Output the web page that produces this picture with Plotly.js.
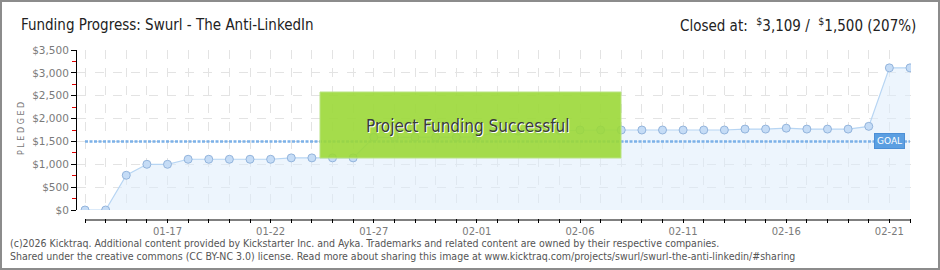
<!DOCTYPE html>
<html>
<head>
<meta charset="utf-8">
<script src="https://cdn.plot.ly/plotly-3.0.1.min.js"></script>
<style>
  html, body { margin: 0; padding: 0; background: #fff; }
  #wrap { position: relative; width: 940px; height: 270px; }
  #chart { width: 940px; height: 270px; }
  #frame { position: absolute; left: 0; top: 0; width: 940px; height: 270px; box-sizing: border-box;
           border: 2px solid #8c8c8c; pointer-events: none; }
</style>
</head>
<body>
<div id="wrap"><div id="chart"></div><div id="frame"></div></div>
<script>
const dates = ['2026-01-13','2026-01-14','2026-01-15','2026-01-16','2026-01-17','2026-01-18','2026-01-19',
  '2026-01-20','2026-01-21','2026-01-22','2026-01-23','2026-01-24','2026-01-25','2026-01-26','2026-01-27',
  '2026-01-28','2026-01-29','2026-01-30','2026-01-31','2026-02-01','2026-02-02','2026-02-03','2026-02-04',
  '2026-02-05','2026-02-06','2026-02-07','2026-02-08','2026-02-09','2026-02-10','2026-02-11','2026-02-12',
  '2026-02-13','2026-02-14','2026-02-15','2026-02-16','2026-02-17','2026-02-18','2026-02-19','2026-02-20',
  '2026-02-21','2026-02-22'];
const pledged = [0,0,760,1000,1000,1110,1110,1110,1110,1110,1140,1140,1140,1140,1590,1590,1590,1590,1590,
  1600,1715,1725,1730,1740,1750,1750,1750,1750,1750,1750,1750,1750,1770,1770,1790,1770,1770,1770,1830,3109,3109];
const goal = 1500;
const titleText = 'Funding Progress: Swurl - The Anti-LinkedIn';
const closedText = 'Closed at:  <sup>$</sup>3,109 /  <sup>$</sup>1,500 (207%)';
const stampText = 'Project Funding Successful';
const footer1 = '(c)2026 Kicktraq. Additional content provided by Kickstarter Inc. and Ayka. Trademarks and related content are owned by their respective companies.';
const footer2 = 'Shared under the creative commons (CC BY-NC 3.0) license. Read more about sharing this image at www.kicktraq.com/projects/swurl/swurl-the-anti-linkedin/#sharing';

const L = 77, R = 911, T = 50, B = 220;
const W = R - L, H = B - T;
const px = v => (v - L) / W;
const py = v => (B - v) / H;

const traces = [
  {
    x: dates, y: pledged, type: 'scatter', mode: 'lines+markers',
    line: { color: '#b7d5f3', width: 1.2 },
    fill: 'tozeroy', fillcolor: 'rgba(222,236,252,0.55)',
    marker: { size: 8, color: '#c5dcf6', line: { color: '#93b4dc', width: 1 } },
    hoverinfo: 'skip'
  },
  {
    x: [dates[0], dates[dates.length - 1]], y: [goal, goal], type: 'scatter', mode: 'lines',
    line: { color: '#7cb1e8', width: 2.5, dash: '3px,1.5px' }, hoverinfo: 'skip'
  }
];

const tickFont = { family: 'DejaVu Sans, sans-serif', size: 10.5, color: '#7a7a7a' };
const condensed = 'DejaVu Sans Condensed, sans-serif';

const layout = {
  width: 940, height: 270,
  margin: { l: L, r: 940 - R, t: T, b: 270 - B },
  paper_bgcolor: '#ffffff', plot_bgcolor: '#ffffff',
  showlegend: false,
  xaxis: {
    type: 'date',
    range: ['2026-01-12 14:41', '2026-02-22 01:10'],
    anchor: 'free', position: 2 / H,
    tick0: '2026-01-17', dtick: 5 * 86400000, tickformat: '%m-%d',
    ticks: 'outside', ticklen: 4, tickcolor: '#000', tickwidth: 1,
    tickfont: { family: 'DejaVu Sans, sans-serif', size: 10, color: '#7a7a7a' },
    showgrid: true, gridcolor: '#e3e3e3', griddash: 'dash', gridwidth: 1,
    minor: { tick0: '2026-01-13', dtick: 86400000, ticks: 'outside', ticklen: 4, tickcolor: '#000',
             showgrid: true, gridcolor: '#e3e3e3', griddash: 'dash' },
    showline: false, zeroline: false
  },
  yaxis: {
    domain: [10 / H, 1],
    range: [0, 3500], dtick: 500,
    tickprefix: '$', tickformat: ',d', separatethousands: true,
    ticks: 'outside', ticklen: 5, tickcolor: '#000',
    tickfont: tickFont,
    showline: true, linecolor: '#000', linewidth: 1,
    showgrid: true, gridcolor: '#e3e3e3', griddash: 'dash',
    minor: { dtick: 250, ticks: 'outside', ticklen: 4, tickcolor: '#e00000', showgrid: false },
    zeroline: false
  },
  shapes: [
    { type: 'line', xref: 'x', yref: 'paper', x0: dates[0], x1: dates[dates.length - 1], y0: 0, y1: 0,
      line: { color: '#000', width: 1 } },
    { type: 'rect', xref: 'paper', yref: 'paper', x0: px(320), x1: px(621), y0: py(158), y1: py(92),
      fillcolor: 'rgba(155,216,55,0.9)', line: { color: '#b9e383', width: 1 }, layer: 'above' }
  ],
  annotations: [
    { xref: 'paper', yref: 'paper', x: px(19), y: py(25), xanchor: 'left', yanchor: 'middle',
      text: titleText, showarrow: false,
      font: { family: condensed, size: 15, color: '#222' } },
    { xref: 'paper', yref: 'paper', x: px(918), y: py(25), xanchor: 'right', yanchor: 'middle',
      text: closedText, showarrow: false,
      font: { family: condensed, size: 15, color: '#222' } },
    { xref: 'paper', yref: 'paper', x: px(21), y: py(129), xanchor: 'center', yanchor: 'middle',
      text: 'P L E D G E D', textangle: -90, showarrow: false,
      font: { family: 'DejaVu Sans, sans-serif', size: 8, color: '#777' } },
    { xref: 'paper', yref: 'paper', x: px(468), y: py(126), xanchor: 'center', yanchor: 'middle',
      text: stampText, showarrow: false,
      font: { family: condensed, size: 17, color: '#3a3a3a', shadow: '1px 1px 0px #ffffff' } },
    { xref: 'x', yref: 'y', x: dates[dates.length - 2], y: goal, xanchor: 'center', yanchor: 'middle',
      text: 'GOAL', showarrow: false, bgcolor: '#5b9fe2', bordercolor: '#4b8fd6', borderwidth: 1, borderpad: 2,
      font: { family: 'DejaVu Sans, sans-serif', size: 9, color: '#ffffff' } },
    { xref: 'paper', yref: 'paper', x: px(8), y: py(243), xanchor: 'left', yanchor: 'middle',
      text: footer1, showarrow: false,
      font: { family: condensed, size: 10.5, color: '#555' } },
    { xref: 'paper', yref: 'paper', x: px(8), y: py(256), xanchor: 'left', yanchor: 'middle',
      text: footer2, showarrow: false,
      font: { family: condensed, size: 10.5, color: '#555' } }
  ]
};

Plotly.newPlot('chart', traces, layout, { staticPlot: true, displayModeBar: false });
</script>
</body>
</html>
